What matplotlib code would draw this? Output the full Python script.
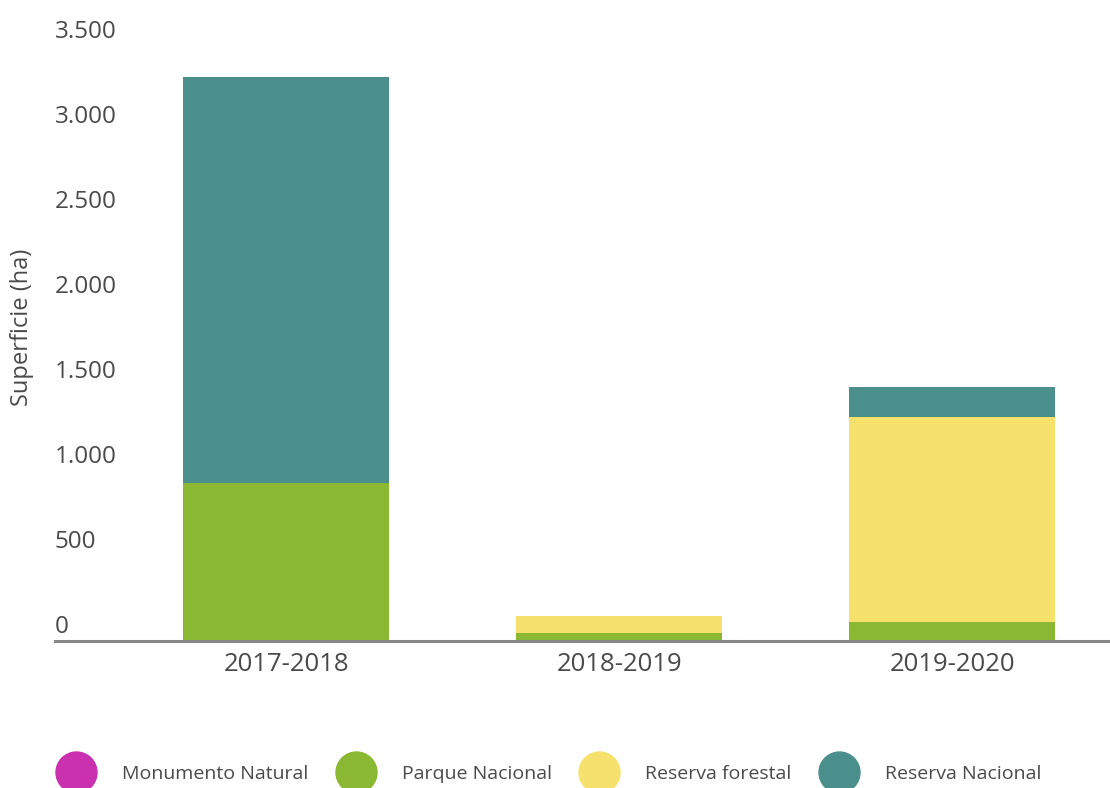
import matplotlib
matplotlib.use("Agg")
import matplotlib.pyplot as plt
from matplotlib.lines import Line2D
from matplotlib.transforms import blended_transform_factory, offset_copy
import numpy as np

# datos (ha) por temporada
periods = ["2017-2018", "2018-2019", "2019-2020"]
monumento_natural = [0, 0, 0]
parque_nacional = [929, 49, 112]
reserva_forestal = [0, 100, 1206]
reserva_nacional = [2389, 0, 178]

series_names = ["Monumento Natural", "Parque Nacional", "Reserva forestal", "Reserva Nacional"]
series_colors = ["#c931ae", "#8ab833", "#f5e16b", "#4b8f8c"]

y_ticks = [0, 500, 1000, 1500, 2000, 2500, 3000, 3500]
y_tick_labels = ["0", "500", "1.000", "1.500", "2.000", "2.500", "3.000", "3.500"]

TEXT = "#4a4a4a"
plt.rcParams["font.family"] = ["Open Sans", "DejaVu Sans"]

fig = plt.figure(figsize=(11.1, 7.88), dpi=100)
ax = fig.add_axes([55 / 1110, 1 - 641 / 788, 1 - 55 / 1110, (641 - 46) / 788])

x = np.arange(len(periods))
bottom = np.zeros(len(periods))
for vals, color in zip([monumento_natural, parque_nacional, reserva_forestal, reserva_nacional], series_colors):
    ax.bar(x, vals, width=0.62, bottom=bottom, color=color, zorder=2)
    bottom += np.array(vals)

ax.set_xlim(-0.694, 2.474)
ax.set_ylim(0, 3500)

for s in ["top", "right", "left"]:
    ax.spines[s].set_visible(False)
ax.spines["bottom"].set_color("#888888")
ax.spines["bottom"].set_linewidth(2.2)
ax.spines["bottom"].set_zorder(3)

ax.set_xticks(x)
ax.set_xticklabels(periods, fontsize=18.5, color=TEXT)
ax.tick_params(axis="x", length=0, pad=8)

# etiquetas del eje y sobre la posicion del valor, alineadas a la izquierda
ax.set_yticks([])
trans = offset_copy(blended_transform_factory(ax.transAxes, ax.transData), fig=fig, x=0, y=6, units="points")
for v, lab in zip(y_ticks, y_tick_labels):
    ax.text(0.0, v, lab, transform=trans, ha="left", va="baseline", fontsize=17.5, color=TEXT)

fig.text(22 / 1110, 1 - 327 / 788, "Superficie (ha)", rotation=90, ha="center", va="center",
         fontsize=17, color=TEXT)

handles = [Line2D([], [], linestyle="none", marker="o", markersize=29.5,
                  markerfacecolor=c, markeredgecolor=c) for c in series_colors]
leg = fig.legend(handles, series_names, loc="center left", bbox_to_anchor=(55 / 1110, 1 - 774 / 788),
                 ncol=4, frameon=False, fontsize=14, handlelength=2.2, handletextpad=1.25,
                 columnspacing=1.35, borderpad=0, borderaxespad=0)
for t in leg.get_texts():
    t.set_color(TEXT)

fig.savefig("out.png", dpi=100)
